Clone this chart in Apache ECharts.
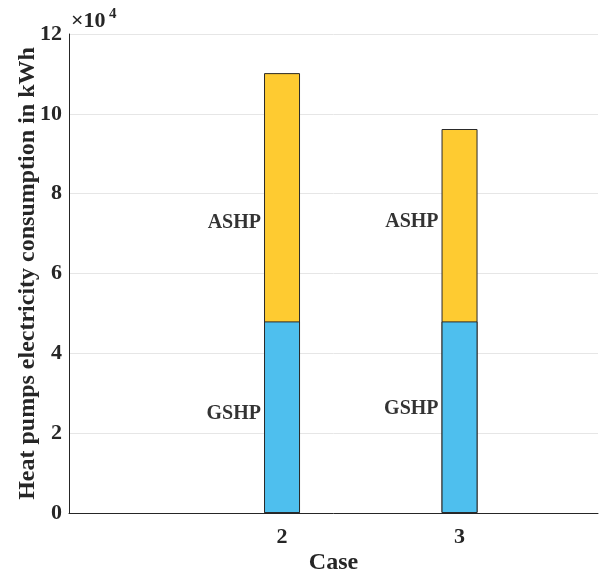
<!DOCTYPE html>
<html><head><meta charset="utf-8">
<script src="https://cdn.jsdelivr.net/npm/echarts@6/dist/echarts.min.js"></script>
<style>html,body{margin:0;padding:0;background:#fff}#c{width:599px;height:573px}</style>
</head><body><div id="c"></div>
<script>
const cases = [2, 3];
const gshp = [48000, 48000];
const ashp = [62200, 48200];
const labelNames = ['ASHP', 'GSHP'];
const labelY = [[72650, 73000], [24850, 26050]];
const yTicks = [0, 2, 4, 6, 8, 10, 12];

const F = '"Liberation Serif","Times New Roman",serif';
const chart = echarts.init(document.getElementById('c'));
const labelData = [];
labelNames.forEach((n, i) => cases.forEach((c, j) => labelData.push({value: [c, labelY[i][j]], name: n})));
const totals = cases.map((c, i) => [c, gshp[i] + ashp[i]]);

chart.setOption({
  animation: false,
  grid: {left: 69, right: 1, top: 34, bottom: 60, outerBoundsMode: 'none', containLabel: false},
  xAxis: {
    type: 'value', min: 0.8, max: 3.78,
    name: 'Case', nameLocation: 'middle', nameGap: 38, nameMoveOverlap: false,
    nameTextStyle: {fontFamily: F, fontWeight: 'bold', fontSize: 24, color: '#262626'},
    axisLine: {lineStyle: {color: '#262626'}},
    axisTick: {show: false},
    splitLine: {show: false},
    axisLabel: {customValues: cases, fontFamily: F, fontWeight: 'bold', fontSize: 22, color: '#262626', margin: 13}
  },
  yAxis: {
    type: 'value', min: 0, max: 120000, interval: 20000,
    name: 'Heat pumps electricity consumption in kWh', nameLocation: 'middle', nameGap: 29, nameMoveOverlap: false,
    nameTextStyle: {fontFamily: F, fontWeight: 'bold', fontSize: 24, color: '#262626'},
    axisLine: {show: true, lineStyle: {color: '#262626'}},
    axisTick: {show: false},
    splitLine: {lineStyle: {color: '#e6e6e6'}},
    axisLabel: {formatter: v => String(v / 10000), fontFamily: F, fontWeight: 'bold', fontSize: 22, color: '#262626', margin: 7}
  },
  graphic: [
    {type: 'text', left: 71, top: 10,
     style: {text: '×10', fontFamily: F, fontSize: 22, fontWeight: 'bold', fill: '#262626'}},
    {type: 'text', left: 109, top: 7,
     style: {text: '4', fontFamily: F, fontSize: 15, fontWeight: 'bold', fill: '#262626'}}
  ],
  series: [
    {type: 'bar', barWidth: 36, barGap: '-100%', data: totals, z: 2,
     itemStyle: {color: '#fecb31', borderColor: '#2a2a2a', borderWidth: 1}},
    {type: 'bar', barWidth: 36, barGap: '-100%', data: cases.map((c, i) => [c, gshp[i]]), z: 3,
     itemStyle: {color: '#4ebfee', borderColor: '#2a2a2a', borderWidth: 1}},
    {type: 'scatter', symbolSize: 0, data: labelData, silent: true, z: 5,
     label: {show: true, position: 'left', distance: 21, formatter: p => p.name,
       fontFamily: F, fontWeight: 'bold', fontSize: 20, color: '#000'}}
  ]
});
</script></body></html>
